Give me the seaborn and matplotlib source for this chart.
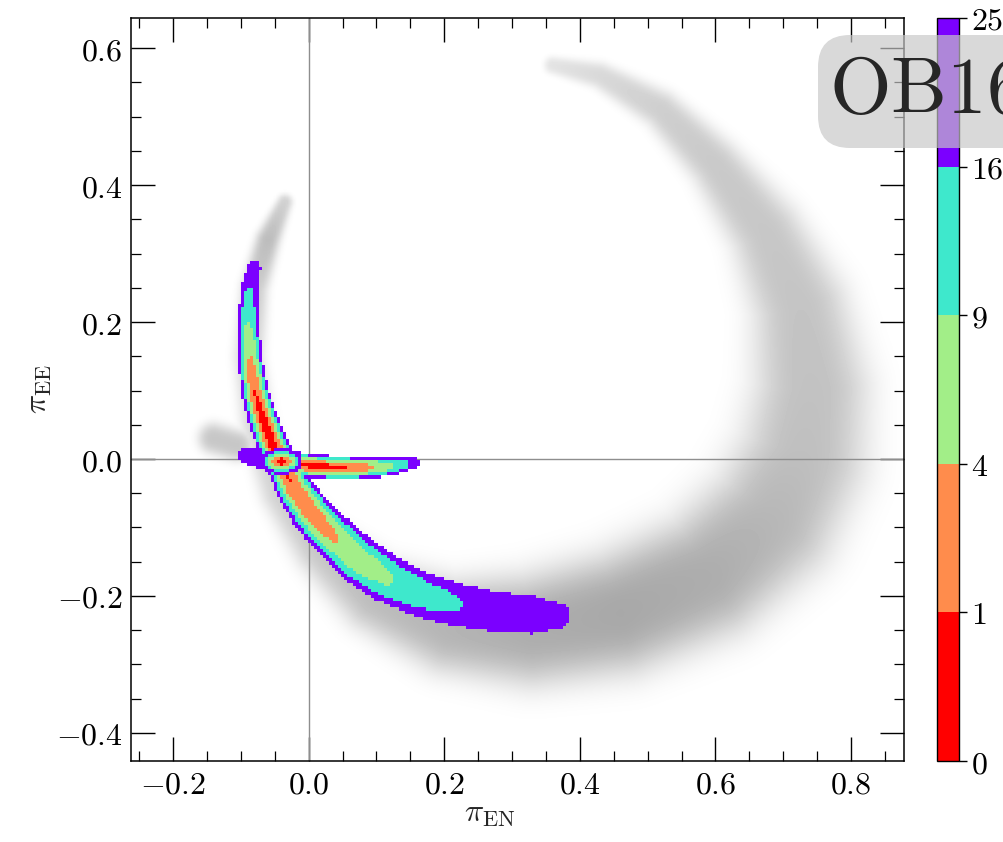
import numpy as np
import matplotlib
matplotlib.use("Agg")
import matplotlib.pyplot as plt
import seaborn as sns
from matplotlib.colors import ListedColormap, BoundaryNorm, LinearSegmentedColormap
from matplotlib.cm import ScalarMappable
from matplotlib.patches import FancyBboxPatch
from matplotlib.transforms import IdentityTransform
from matplotlib.ticker import FuncFormatter, MultipleLocator

# ---------------------------------------------------------------------------
# Delta-chi^2 levels and their colours
levels = [0, 1, 4, 9, 16, 25]
level_colors = ["#ff0000", "#ff8c4c", "#a2ee88", "#3ee8cc", "#7b00ff"]

# Main parallax arc: ridge points (pi_EN, pi_EE), minimum dchi2 along the
# ridge and half-width of the dchi2 = 25 contour
arc_en = [-0.081, -0.088, -0.090, -0.087, -0.080, -0.068, -0.055, -0.040, -0.020,
          0.005, 0.035, 0.075, 0.115, 0.165, 0.215, 0.270, 0.330, 0.368]
arc_ee = [0.280, 0.245, 0.200, 0.150, 0.100, 0.060, 0.025, -0.004, -0.045,
          -0.080, -0.112, -0.148, -0.175, -0.197, -0.212, -0.222, -0.228, -0.229]
arc_min = [21.0, 15.0, 9.0, 4.0, 1.0, 0.3, 0.2, 0.6, 1.2,
           2.0, 3.5, 6.0, 8.5, 12.0, 15.5, 19.0, 21.0, 23.0]
arc_hw = [0.010, 0.013, 0.0155, 0.018, 0.020, 0.022, 0.023, 0.024, 0.027,
          0.030, 0.033, 0.035, 0.035, 0.033, 0.031, 0.029, 0.027, 0.018]

# Short branch along pi_EE ~ 0
branch_en = [-0.093, -0.075, -0.055, -0.030, 0.000, 0.040, 0.080, 0.115, 0.140, 0.154]
branch_ee = [0.004, 0.002, -0.001, -0.006, -0.010, -0.013, -0.013, -0.011, -0.008, -0.005]
branch_min = [22.0, 19.0, 12.0, 2.0, 0.5, 0.4, 2.0, 6.5, 13.0, 21.0]
branch_hw = [0.012, 0.015, 0.017, 0.018, 0.018, 0.017, 0.016, 0.014, 0.012, 0.009]

# Isolated minimum where the two branches cross
cross_en, cross_ee = -0.040, -0.004
cross_rx, cross_ry = 0.029, 0.018

# Wide grey ring (alternative solution): ridge, width and shading depth
ring_en = [0.360, 0.430, 0.520, 0.600, 0.675, 0.725, 0.742, 0.728, 0.682, 0.590,
           0.460, 0.330, 0.210, 0.100, 0.020, -0.040, -0.075, -0.088, -0.080,
           -0.060, -0.035]
ring_ee = [0.575, 0.560, 0.510, 0.430, 0.330, 0.220, 0.100, 0.000, -0.090, -0.170,
           -0.225, -0.250, -0.245, -0.200, -0.130, -0.050, 0.050, 0.150, 0.250,
           0.320, 0.375]
ring_w = [0.010, 0.015, 0.022, 0.030, 0.042, 0.055, 0.066, 0.073, 0.075, 0.072,
          0.069, 0.063, 0.053, 0.042, 0.032, 0.024, 0.020, 0.018, 0.016,
          0.014, 0.009]
ring_depth = [0.11, 0.15, 0.19, 0.21, 0.22, 0.23, 0.24, 0.25, 0.28, 0.32,
              0.34, 0.32, 0.29, 0.26, 0.22, 0.18, 0.16, 0.16, 0.20,
              0.26, 0.18]

# Small grey patch left of the crossing
patch_en, patch_ee = [-0.140, -0.105], [0.030, 0.020]
patch_w = [0.018, 0.018]
patch_depth = [0.22, 0.22]

x_lim = (-0.262, 0.878)
y_lim = (-0.441, 0.644)
x_ticks = [-0.2, 0.0, 0.2, 0.4, 0.6, 0.8]
y_ticks = [-0.4, -0.2, 0.0, 0.2, 0.4, 0.6]

# ---------------------------------------------------------------------------
nx, ny = 254, 242
gx = x_lim[0] + (np.arange(nx) + 0.5) * (x_lim[1] - x_lim[0]) / nx
gy = y_lim[0] + (np.arange(ny) + 0.5) * (y_lim[1] - y_lim[0]) / ny
X, Y = np.meshgrid(gx, gy)
PROFILE = 2.5  # exponent of the dchi2 rise across a ridge


def densify(*arrays, n=40):
    t = np.linspace(0.0, 1.0, n, endpoint=False)
    out = []
    for arr in arrays:
        arr = np.asarray(arr, float)
        pieces = [arr[i] + (arr[i + 1] - arr[i]) * t for i in range(len(arr) - 1)]
        out.append(np.concatenate(pieces + [arr[-1:]]))
    return out


def chi2_ridge(px, py, base, hw):
    sx, sy, sb, sw = densify(px, py, base, hw)
    field = np.full(X.shape, np.inf)
    for x0, y0, b, w in zip(sx, sy, sb, sw):
        d = np.sqrt((X - x0) ** 2 + (Y - y0) ** 2) / w
        np.minimum(field, b + (25.0 - b) * d ** PROFILE, out=field)
    return field


def shade_ridge(px, py, width, depth):
    sx, sy, sw, sd = densify(px, py, width, depth)
    field = np.zeros(X.shape)
    for x0, y0, w, a in zip(sx, sy, sw, sd):
        d = np.sqrt((X - x0) ** 2 + (Y - y0) ** 2) / w
        np.maximum(field, a * np.exp(-0.5 * d ** 3), out=field)
    return field


chi2 = np.minimum(chi2_ridge(arc_en, arc_ee, arc_min, arc_hw),
                  chi2_ridge(branch_en, branch_ee, branch_min, branch_hw))
rho = np.sqrt(((X - cross_en) / cross_rx) ** 2 + ((Y - cross_ee) / cross_ry) ** 2)
chi2 = np.where(rho < 1.08, np.minimum(24.0 * rho ** PROFILE, 24.0), chi2)
chi2_masked = np.ma.masked_where(chi2 >= 25.0, chi2)

shade = np.maximum(shade_ridge(ring_en, ring_ee, ring_w, ring_depth),
                   shade_ridge(patch_en, patch_ee, patch_w, patch_depth))

# ---------------------------------------------------------------------------
sns.set_theme(style="ticks")
plt.rcParams.update({
    "mathtext.fontset": "cm",
    "font.family": ["DejaVu Serif"],
    "xtick.direction": "in",
    "ytick.direction": "in",
    "xtick.top": True,
    "ytick.right": True,
    "axes.linewidth": 1.1,
    "axes.edgecolor": "black",
    "xtick.color": "black",
    "ytick.color": "black",
})

W, H = 1004, 842
fig = plt.figure(figsize=(W / 100, H / 100), dpi=100)
ax = fig.add_axes([131 / W, 1 - 761 / H, (904 - 131) / W, (761 - 18) / H])

cmap = ListedColormap(level_colors)
norm = BoundaryNorm(levels, cmap.N)
grey = LinearSegmentedColormap.from_list("shade", ["white", "black"])
extent = (x_lim[0], x_lim[1], y_lim[0], y_lim[1])

ax.imshow(shade, origin="lower", extent=extent, cmap=grey, vmin=0, vmax=1,
          interpolation="bilinear", aspect="auto", zorder=0)
ax.axhline(0.0, color="#8e8e8e", lw=1.0, zorder=1)
ax.axvline(0.0, color="#8e8e8e", lw=1.0, zorder=1)
ax.imshow(chi2_masked, origin="lower", extent=extent, cmap=cmap, norm=norm,
          interpolation="nearest", aspect="auto", zorder=2)

ax.set_xlim(*x_lim)
ax.set_ylim(*y_lim)
ax.set_xticks(x_ticks)
ax.set_yticks(y_ticks)
ax.xaxis.set_minor_locator(MultipleLocator(0.05))
ax.yaxis.set_minor_locator(MultipleLocator(0.05))
fmt = FuncFormatter(lambda v, p: r"$%.1f$" % (0.0 if abs(v) < 1e-9 else v))
ax.xaxis.set_major_formatter(fmt)
ax.yaxis.set_major_formatter(fmt)
ax.tick_params(which="major", length=17, width=1.0, labelsize=23, pad=6)
ax.tick_params(which="minor", length=7, width=0.9)
ax.grid(False)

ax.set_xlabel(r"$\pi_{\rm EN}$", fontsize=23)
ax.set_ylabel(r"$\pi_{\rm EE}$", fontsize=23)
ax.xaxis.set_label_coords(0.464, -0.05)
ax.yaxis.set_label_coords(-0.10, 0.5)

# Colour bar
cax = fig.add_axes([937 / W, 1 - 761 / H, 22 / W, (761 - 18) / H])
sm = ScalarMappable(norm=norm, cmap=cmap)
cb = fig.colorbar(sm, cax=cax, ticks=levels, spacing="uniform")
cb.outline.set_linewidth(1.0)
cb.ax.yaxis.set_major_formatter(FuncFormatter(lambda v, p: r"$%d$" % int(round(v))))
cb.ax.tick_params(direction="out", length=6, width=1.0, labelsize=23, pad=3, right=True)
cb.ax.minorticks_off()

# Event label
box = FancyBboxPatch((818, H - 148), 320, 113, boxstyle="round,pad=0,rounding_size=32",
                     transform=IdentityTransform(), facecolor="#c7c7c7", edgecolor="none",
                     alpha=0.68, zorder=5)
fig.add_artist(box)
fig.text(829 / W, 1 - 113 / H, r"$\mathrm{OB161195}$", fontsize=57,
         ha="left", va="baseline", zorder=6)

fig.savefig("out.png", dpi=100)
